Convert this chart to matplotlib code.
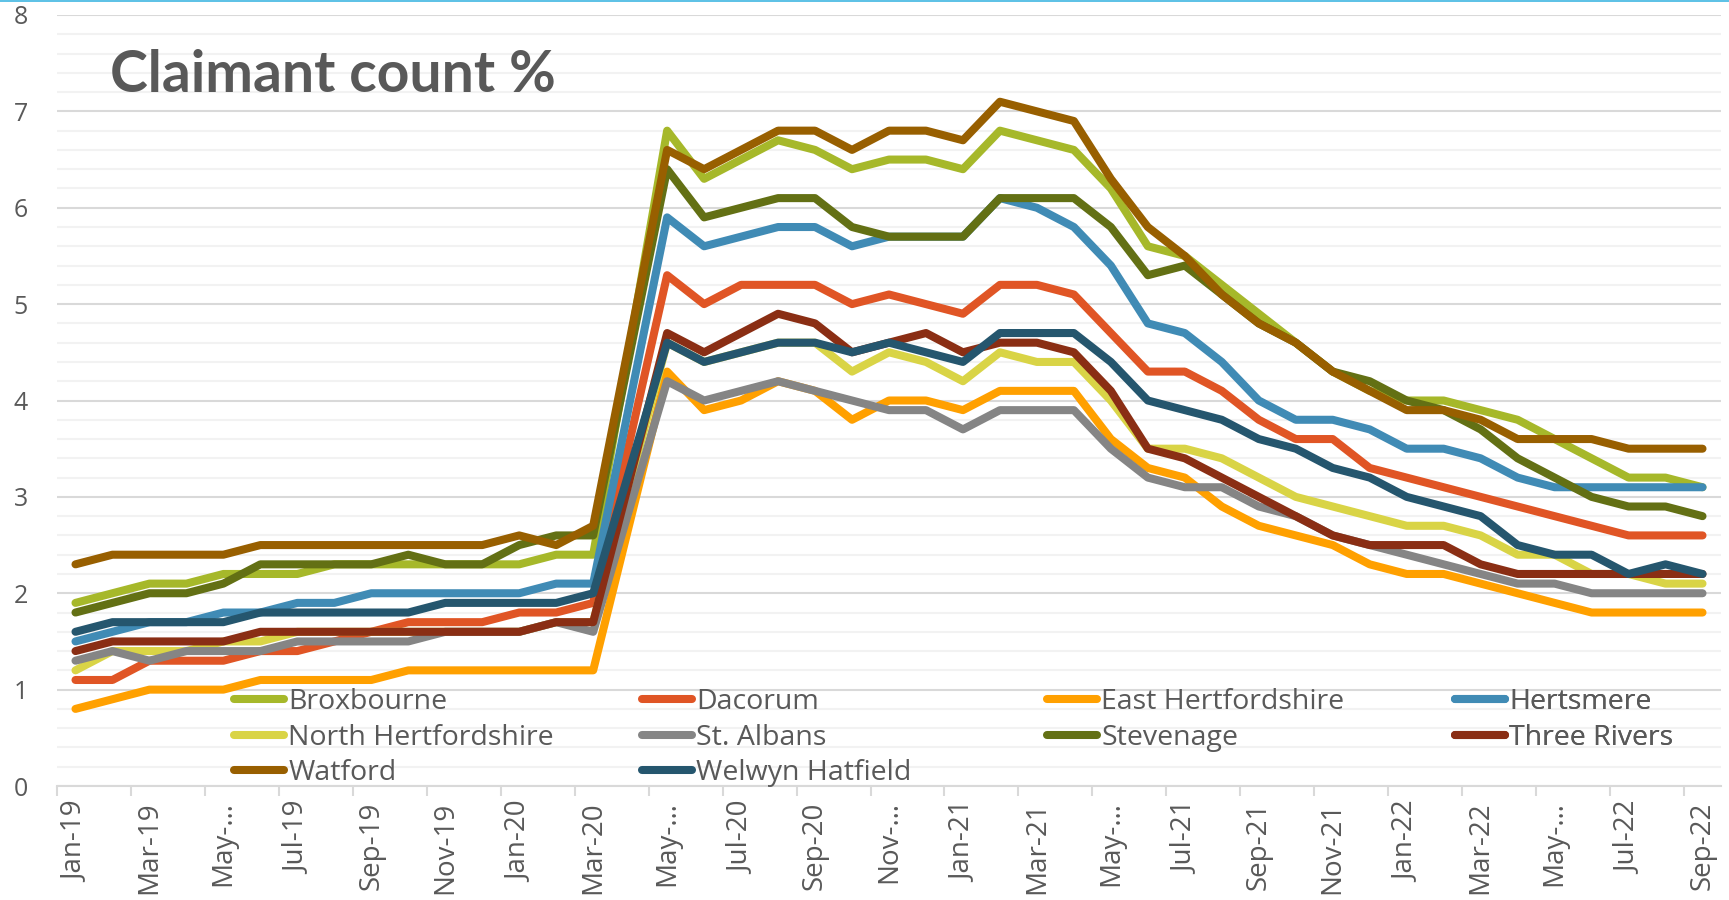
import numpy as np
import pandas as pd
import matplotlib
matplotlib.use('Agg')
import matplotlib.pyplot as plt
from matplotlib.ticker import MultipleLocator

plt.rcParams['font.family'] = ['Open Sans', 'DejaVu Sans']

# monthly claimant count %, Jan-19 .. Sep-22 (Apr-20 has no value in the source)
months = pd.date_range('2019-01-01', '2022-09-01', freq='MS')

broxbourne = [1.9, 2.0, 2.1, 2.1, 2.2, 2.2, 2.2, 2.3, 2.3, 2.3, 2.3, 2.3, 2.3, 2.4, 2.4, None,
              6.8, 6.3, 6.5, 6.7, 6.6, 6.4, 6.5, 6.5, 6.4, 6.8, 6.7, 6.6, 6.2, 5.6,
              5.5, 5.2, 4.9, 4.6, 4.3, 4.1, 4.0, 4.0, 3.9, 3.8, 3.6, 3.4, 3.2, 3.2, 3.1]
dacorum = [1.1, 1.1, 1.3, 1.3, 1.3, 1.4, 1.4, 1.5, 1.6, 1.7, 1.7, 1.7, 1.8, 1.8, 1.9, None,
           5.3, 5.0, 5.2, 5.2, 5.2, 5.0, 5.1, 5.0, 4.9, 5.2, 5.2, 5.1, 4.7, 4.3,
           4.3, 4.1, 3.8, 3.6, 3.6, 3.3, 3.2, 3.1, 3.0, 2.9, 2.8, 2.7, 2.6, 2.6, 2.6]
east_herts = [0.8, 0.9, 1.0, 1.0, 1.0, 1.1, 1.1, 1.1, 1.1, 1.2, 1.2, 1.2, 1.2, 1.2, 1.2, None,
              4.3, 3.9, 4.0, 4.2, 4.1, 3.8, 4.0, 4.0, 3.9, 4.1, 4.1, 4.1, 3.6, 3.3,
              3.2, 2.9, 2.7, 2.6, 2.5, 2.3, 2.2, 2.2, 2.1, 2.0, 1.9, 1.8, 1.8, 1.8, 1.8]
hertsmere = [1.5, 1.6, 1.7, 1.7, 1.8, 1.8, 1.9, 1.9, 2.0, 2.0, 2.0, 2.0, 2.0, 2.1, 2.1, None,
             5.9, 5.6, 5.7, 5.8, 5.8, 5.6, 5.7, 5.7, 5.7, 6.1, 6.0, 5.8, 5.4, 4.8,
             4.7, 4.4, 4.0, 3.8, 3.8, 3.7, 3.5, 3.5, 3.4, 3.2, 3.1, 3.1, 3.1, 3.1, 3.1]
north_herts = [1.2, 1.4, 1.4, 1.4, 1.5, 1.5, 1.6, 1.6, 1.6, 1.6, 1.6, 1.6, 1.6, 1.7, 1.7, None,
               4.6, 4.4, 4.5, 4.6, 4.6, 4.3, 4.5, 4.4, 4.2, 4.5, 4.4, 4.4, 4.0, 3.5,
               3.5, 3.4, 3.2, 3.0, 2.9, 2.8, 2.7, 2.7, 2.6, 2.4, 2.4, 2.2, 2.2, 2.1, 2.1]
st_albans = [1.3, 1.4, 1.3, 1.4, 1.4, 1.4, 1.5, 1.5, 1.5, 1.5, 1.6, 1.6, 1.6, 1.7, 1.6, None,
             4.2, 4.0, 4.1, 4.2, 4.1, 4.0, 3.9, 3.9, 3.7, 3.9, 3.9, 3.9, 3.5, 3.2,
             3.1, 3.1, 2.9, 2.8, 2.6, 2.5, 2.4, 2.3, 2.2, 2.1, 2.1, 2.0, 2.0, 2.0, 2.0]
stevenage = [1.8, 1.9, 2.0, 2.0, 2.1, 2.3, 2.3, 2.3, 2.3, 2.4, 2.3, 2.3, 2.5, 2.6, 2.6, None,
             6.4, 5.9, 6.0, 6.1, 6.1, 5.8, 5.7, 5.7, 5.7, 6.1, 6.1, 6.1, 5.8, 5.3,
             5.4, 5.1, 4.8, 4.6, 4.3, 4.2, 4.0, 3.9, 3.7, 3.4, 3.2, 3.0, 2.9, 2.9, 2.8]
three_rivers = [1.4, 1.5, 1.5, 1.5, 1.5, 1.6, 1.6, 1.6, 1.6, 1.6, 1.6, 1.6, 1.6, 1.7, 1.7, None,
                4.7, 4.5, 4.7, 4.9, 4.8, 4.5, 4.6, 4.7, 4.5, 4.6, 4.6, 4.5, 4.1, 3.5,
                3.4, 3.2, 3.0, 2.8, 2.6, 2.5, 2.5, 2.5, 2.3, 2.2, 2.2, 2.2, 2.2, 2.2, 2.2]
watford = [2.3, 2.4, 2.4, 2.4, 2.4, 2.5, 2.5, 2.5, 2.5, 2.5, 2.5, 2.5, 2.6, 2.5, 2.7, None,
           6.6, 6.4, 6.6, 6.8, 6.8, 6.6, 6.8, 6.8, 6.7, 7.1, 7.0, 6.9, 6.3, 5.8,
           5.5, 5.1, 4.8, 4.6, 4.3, 4.1, 3.9, 3.9, 3.8, 3.6, 3.6, 3.6, 3.5, 3.5, 3.5]
welwyn = [1.6, 1.7, 1.7, 1.7, 1.7, 1.8, 1.8, 1.8, 1.8, 1.8, 1.9, 1.9, 1.9, 1.9, 2.0, None,
          4.6, 4.4, 4.5, 4.6, 4.6, 4.5, 4.6, 4.5, 4.4, 4.7, 4.7, 4.7, 4.4, 4.0,
          3.9, 3.8, 3.6, 3.5, 3.3, 3.2, 3.0, 2.9, 2.8, 2.5, 2.4, 2.4, 2.2, 2.3, 2.2]

series_names = ['Broxbourne', 'Dacorum', 'East Hertfordshire', 'Hertsmere', 'North Hertfordshire',
                'St. Albans', 'Stevenage', 'Three Rivers', 'Watford', 'Welwyn Hatfield']
series_values = [broxbourne, dacorum, east_herts, hertsmere, north_herts,
                 st_albans, stevenage, three_rivers, watford, welwyn]
series_colors = ['#A6B82A', '#E05525', '#FFA000', '#408BB5', '#D9D446',
                 '#858585', '#637014', '#8A2E14', '#985F00', '#25566E']

# category labels as they appear (Excel cut some of them short)
tick_labels = ['Jan-19', 'Mar-19', 'May-…', 'Jul-19', 'Sep-19', 'Nov-19', 'Jan-20', 'Mar-20',
               'May-…', 'Jul-20', 'Sep-20', 'Nov-…', 'Jan-21', 'Mar-21', 'May-…', 'Jul-21',
               'Sep-21', 'Nov-21', 'Jan-22', 'Mar-22', 'May-…', 'Jul-22', 'Sep-22']

W, H = 1729, 900
fig = plt.figure(figsize=(W / 100, H / 100), dpi=100)
ax = fig.add_axes([57 / W, 1 - 786 / H, (1721 - 57) / W, (786 - 15) / H])

x = np.arange(len(months))
lines = {}
for name, vals, col in zip(series_names, series_values, series_colors):
    v = np.array([np.nan if a is None else a for a in vals], dtype=float)
    ok = ~np.isnan(v)
    ln, = ax.plot(x[ok], v[ok], color=col, lw=5.8, solid_joinstyle='round',
                  solid_capstyle='round', label=name, zorder=3)
    lines[name] = ln

ax.set_xlim(-0.5, len(months) - 0.5)
ax.set_ylim(0, 8)

# y axis + gridlines
ax.yaxis.set_major_locator(MultipleLocator(1))
ax.yaxis.set_minor_locator(MultipleLocator(0.2))
ax.grid(True, axis='y', which='major', color='#D9D9D9', lw=1.5)
ax.grid(True, axis='y', which='minor', color='#F2F2F2', lw=1.5)
ax.set_axisbelow(True)
ax.tick_params(axis='y', which='both', length=0, pad=21, labelsize=18, labelcolor='#595959')

# x axis: tick marks between every second category, labels on the category
ax.set_xticks(np.arange(-0.5, len(months) - 1, 2))
ax.set_xticklabels([])
ax.set_xticks(x[::2], minor=True)
ax.set_xticklabels(tick_labels, minor=True, rotation=90)
ax.tick_params(axis='x', which='major', length=7.5, width=1.5, color='#D9D9D9', direction='out')
ax.tick_params(axis='x', which='minor', length=0, pad=11, labelsize=20, labelcolor='#595959')

for s in ['top', 'right', 'left']:
    ax.spines[s].set_visible(False)
ax.spines['bottom'].set_color('#D9D9D9')
ax.spines['bottom'].set_linewidth(1.5)

fig.text(110 / W, 1 - 92 / H, 'Claimant count %', fontsize=41, fontweight='bold',
         family=['Lato', 'DejaVu Sans'], color='#595959', va='baseline', ha='left')

# legend: four columns, filled row by row like the original
col_x = [234, 642, 1047, 1455]
for c in range(4):
    names = series_names[c::4]
    leg = ax.legend(handles=[lines[n] for n in names], labels=names,
                    loc='upper left', bbox_to_anchor=(col_x[c] / W, 1 - 688 / H),
                    bbox_transform=fig.transFigure, frameon=False, fontsize=20.5,
                    handlelength=1.75, handletextpad=0.15, borderpad=0, borderaxespad=0,
                    labelspacing=0.27, labelcolor='#595959')
    ax.add_artist(leg)

# thin accent line along the top edge
fig.add_artist(plt.Line2D([0, 1], [1 - 0.6 / H, 1 - 0.6 / H], transform=fig.transFigure,
                          color='#3FB6E2', lw=1.2))

fig.savefig('out.png', dpi=100)
